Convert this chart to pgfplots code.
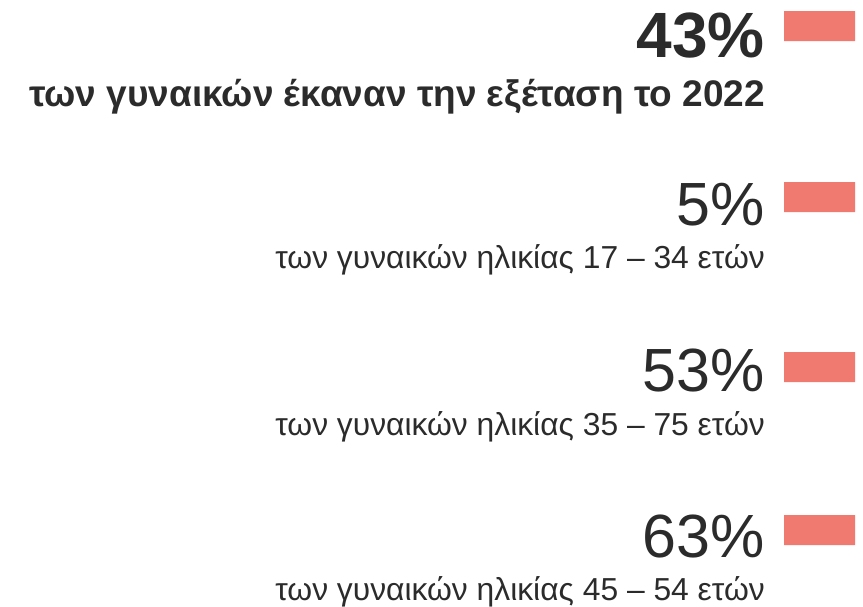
\documentclass[border=0pt]{standalone}
\usepackage{fontspec}
\setmainfont{Liberation Sans}
\usepackage{pgfplots}
\usepackage{pgfplotstable}
\pgfplotsset{compat=1.18}
\definecolor{barc}{HTML}{F07A70}
\definecolor{txt}{HTML}{2B2B2B}

% bar values (share of women), bar centres in pixels from the top
\pgfplotstableread{
val  ypos
43   26
5    197
53   367
63   530
}\shares

\begin{document}
\begin{tikzpicture}
\path[use as bounding box] (0pt,0pt) rectangle (863pt,606pt);

\begin{axis}[
    at={(784pt,0pt)}, anchor=south west,
    width=71pt, height=606pt, scale only axis,
    hide axis, enlargelimits=false,
    xmin=0, xmax=5,
    ymin=0, ymax=606, y dir=reverse,
    xbar, bar width=30, bar shift=0pt,
]
\addplot[fill=barc, draw=none] table[x=val, y=ypos] {\shares};
\end{axis}

\begin{scope}[every node/.style={anchor=base east, inner sep=0pt, text=txt}]
\node[font=\fontsize{64}{64}\selectfont\bfseries] at (765pt,548pt) {43\%};
\node[font=\fontsize{37}{37}\selectfont\bfseries] at (765pt,499pt) {των γυναικών έκαναν την εξέταση το 2022};
\node[font=\fontsize{61}{61}\selectfont] at (765pt,380pt) {5\%};
\node[font=\fontsize{31.8}{32}\selectfont] at (765pt,337pt) {των γυναικών ηλικίας 17 – 34 ετών};
\node[font=\fontsize{61}{61}\selectfont] at (765pt,214pt) {53\%};
\node[font=\fontsize{31.8}{32}\selectfont] at (765pt,170pt) {των γυναικών ηλικίας 35 – 75 ετών};
\node[font=\fontsize{61}{61}\selectfont] at (765pt,49pt) {63\%};
\node[font=\fontsize{31.8}{32}\selectfont] at (765pt,6pt) {των γυναικών ηλικίας 45 – 54 ετών};
\end{scope}
\end{tikzpicture}
\end{document}
